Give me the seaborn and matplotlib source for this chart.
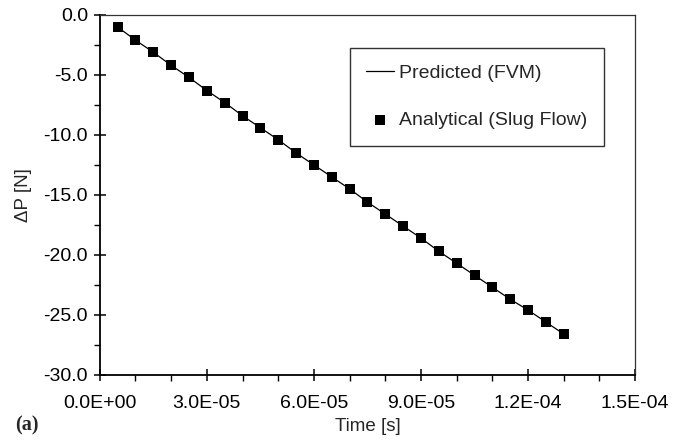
import numpy as np
import pandas as pd
import matplotlib
matplotlib.use('Agg')
import matplotlib.pyplot as plt
from matplotlib.ticker import FuncFormatter, MultipleLocator
import seaborn as sns

# Veriler
zaman = [5e-06, 1e-05, 1.5e-05, 2e-05, 2.5e-05, 3e-05, 3.5e-05, 4e-05, 4.5e-05, 5e-05,
         5.5e-05, 6e-05, 6.5e-05, 7e-05, 7.5e-05, 8e-05, 8.5e-05, 9e-05, 9.5e-05, 1e-04,
         1.05e-04, 1.1e-04, 1.15e-04, 1.2e-04, 1.25e-04, 1.3e-04]
dp_fvm = [-1.0, -2.1, -3.1, -4.2, -5.2, -6.3, -7.3, -8.4, -9.4, -10.4,
          -11.5, -12.5, -13.5, -14.5, -15.6, -16.6, -17.6, -18.6, -19.7, -20.7,
          -21.7, -22.7, -23.7, -24.6, -25.6, -26.6]
dp_analitik = [-1.0, -2.1, -3.1, -4.2, -5.2, -6.3, -7.3, -8.4, -9.4, -10.4,
               -11.5, -12.5, -13.5, -14.5, -15.6, -16.6, -17.6, -18.6, -19.7, -20.7,
               -21.7, -22.7, -23.7, -24.6, -25.6, -26.6]

df = pd.DataFrame({'t': zaman, 'fvm': dp_fvm, 'analitik': dp_analitik})

sns.set_theme(style='ticks')
plt.rcParams['font.family'] = ['Liberation Sans', 'DejaVu Sans']

fig = plt.figure(figsize=(6.83, 4.4), dpi=100)
ax = fig.add_axes([0.146, 0.148, 0.784, 0.818])

sns.lineplot(data=df, x='t', y='fvm', color='black', linewidth=0.9,
             label='Predicted (FVM)', ax=ax)
sns.scatterplot(data=df, x='t', y='analitik', marker='s', s=52, color='black',
                edgecolor='black', linewidth=0, label='Analytical (Slug Flow)',
                ax=ax, zorder=3)

ax.set_xlim(0, 1.5e-04)
ax.set_ylim(-30, 0)
ax.xaxis.set_major_locator(MultipleLocator(3e-05))
ax.xaxis.set_minor_locator(MultipleLocator(1e-05))
ax.yaxis.set_major_locator(MultipleLocator(5))
ax.yaxis.set_minor_locator(MultipleLocator(2.5))
ax.xaxis.set_major_formatter(FuncFormatter(lambda v, p: f'{v:.1E}'))
ax.yaxis.set_major_formatter(FuncFormatter(lambda v, p: f'{v:.1f}'))

ax.tick_params(which='major', direction='inout', length=9, width=1.1,
               labelsize=14, color='black', labelcolor='black')
ax.tick_params(which='minor', direction='out', length=4, width=1.0, color='black')
ax.tick_params(axis='x', which='major', pad=10)
ax.tick_params(axis='y', which='major', pad=4)

for s in ['left', 'bottom']:
    ax.spines[s].set_linewidth(1.3)
    ax.spines[s].set_color('black')
for s in ['top', 'right']:
    ax.spines[s].set_visible(True)
    ax.spines[s].set_linewidth(0.9)
    ax.spines[s].set_color('#333333')

ax.set_xlabel('Time [s]', fontsize=13.5, labelpad=4)
ax.set_ylabel('\u0394P [N]', fontsize=13.5, labelpad=8)

leg = ax.legend(loc='upper left', bbox_to_anchor=(0.467, 0.908), fontsize=14,
                frameon=True, fancybox=False, shadow=False, borderpad=0.85,
                labelspacing=1.5, handlelength=1.4, handletextpad=0.3,
                borderaxespad=0)
leg.get_frame().set_edgecolor('black')
leg.get_frame().set_linewidth(1.0)

fig.text(0.022, 0.034, '(a)', fontsize=14.5, fontweight='bold', va='center',
         family=['Liberation Serif', 'DejaVu Serif'])

fig.savefig('out.png', dpi=100)
